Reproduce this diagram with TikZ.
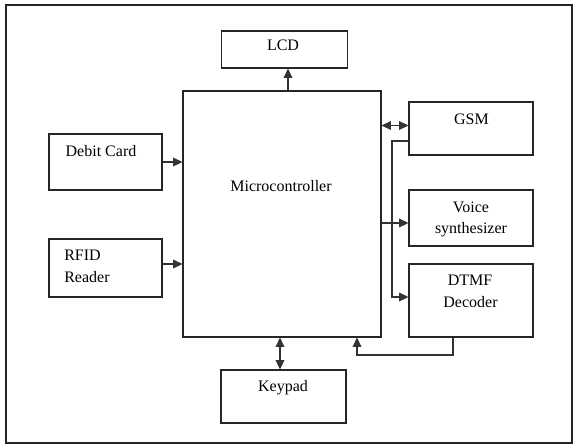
\documentclass[tikz,border=0pt]{standalone}
\usepackage{fontspec}
\setmainfont{Liberation Serif}
\usetikzlibrary{arrows.meta}
\begin{document}
\begin{tikzpicture}[x=0.75pt,y=-0.75pt,
  box/.style={draw=black!85,line width=0.8pt,rectangle,inner sep=0pt},
  conn/.style={draw=black!80,line width=0.8pt},
  tip/.tip={Triangle[length=7pt,width=6.5pt]},
  arr/.style={conn,-tip},
  darr/.style={conn,tip-tip},
  lbl/.style={anchor=base,inner sep=0pt,font=\fontsize{12}{14}\selectfont}]
\useasboundingbox (0,0) rectangle (577,444);
\node[box,minimum width=424.5pt,minimum height=328.5pt] (frame) at (289,224) {};
% boxes
\node[box,minimum width=94.5pt,minimum height=27.75pt] (lcd) at (284.5,49.5) {};
\node[box,minimum width=148.5pt,minimum height=184.5pt] (micro) at (282,214) {};
\node[box,minimum width=84.75pt,minimum height=42pt] (debit) at (105.5,162) {};
\node[box,minimum width=84.75pt,minimum height=43.5pt] (rfid) at (105.5,268) {};
\node[box,minimum width=93pt,minimum height=39.75pt] (gsm) at (471,128.5) {};
\node[box,minimum width=93pt,minimum height=42pt] (voice) at (471,218) {};
\node[box,minimum width=93pt,minimum height=54.75pt] (dtmf) at (471,300.5) {};
\node[box,minimum width=93.75pt,minimum height=39.75pt] (keypad) at (283.5,396.5) {};
% labels
\node[lbl] (tlcd) at (283,50.5) {LCD};
\node[lbl] (tmicro) at (281,191.5) {Microcontroller};
\node[lbl] (tdebit) at (101,156) {Debit Card};
\node[lbl,anchor=base west] (trfid1) at (64,260) {RFID};
\node[lbl,anchor=base west] (trfid2) at (64,282) {Reader};
\node[lbl] (tgsm) at (471.5,124) {GSM};
\node[lbl] (tvoice1) at (471,212) {Voice};
\node[lbl] (tvoice2) at (471,233) {synthesizer};
\node[lbl] (tdtmf1) at (470,285) {DTMF};
\node[lbl] (tdtmf2) at (470.5,307) {Decoder};
\node[lbl] (tkey) at (283,391) {Keypad};
% helper coordinates
\coordinate (xlcd) at (288,0);
\coordinate (yrfid) at (0,264);
\coordinate (ygsm) at (0,125.5);
\coordinate (ygsmout) at (0,141);
\coordinate (xbus) at (392,0);
\coordinate (ydtmf) at (0,297);
\coordinate (yvoice) at (0,223);
\coordinate (xkey) at (280,0);
\coordinate (xdt) at (453,0);
\coordinate (xret) at (357,0);
\coordinate (yret) at (0,355);
% connectors
\draw[arr] (micro.north -| xlcd) -- (lcd.south -| xlcd);
\draw[arr] (debit.east) -- (micro.west |- debit.east);
\draw[arr] (rfid.east |- yrfid) -- (micro.west |- yrfid);
\draw[darr] (micro.east |- ygsm) -- (gsm.west |- ygsm);
\draw[arr] (gsm.west |- ygsmout) -- (xbus |- ygsmout) -- (xbus |- ydtmf) -- (dtmf.west |- ydtmf);
\draw[arr] (micro.east |- yvoice) -- (voice.west |- yvoice);
\draw[arr] (dtmf.south -| xdt) -- (xdt |- yret) -- (xret |- yret) -- (micro.south -| xret);
\draw[darr] (micro.south -| xkey) -- (keypad.north -| xkey);
\end{tikzpicture}
\end{document}
